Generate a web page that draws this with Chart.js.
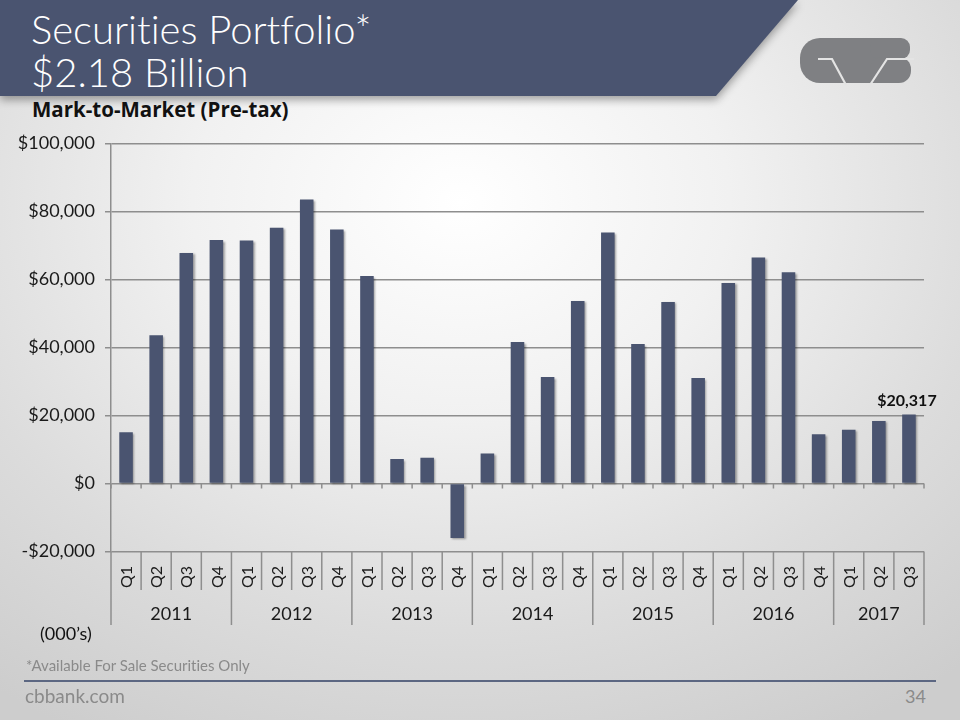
<!DOCTYPE html>
<html><head><meta charset="utf-8">
<script src="https://cdn.jsdelivr.net/npm/chart.js@4.4.1/dist/chart.umd.min.js"></script>
<style>
html,body{margin:0;padding:0;}
body{width:960px;height:720px;overflow:hidden;position:relative;font-family:Lato,"Open Sans",sans-serif;font-variant-ligatures:none;
  background: radial-gradient(ellipse 80% 85% at 48% 28%, #ffffff 0%, #f1f1f1 35%, #dcdcdc 70%, #cdcdcd 100%);}
#banner{position:absolute;left:0;top:0;filter:drop-shadow(0 4px 4px rgba(0,0,0,0.35));}
#title{position:absolute;left:31px;top:8px;color:#fff;font-size:40px;line-height:43px;font-weight:300;white-space:nowrap;}
#subtitle{position:absolute;left:32px;top:99px;font-family:"Open Sans",Lato,sans-serif;font-size:20.5px;line-height:21px;font-weight:700;color:#111;white-space:nowrap;}
#logo{position:absolute;left:790px;top:28px;}
#chartBox{position:absolute;left:0;top:100px;width:960px;height:540px;}
#units{position:absolute;left:40px;top:624px;font-size:18px;line-height:18px;color:#111;}
#note{position:absolute;left:26px;top:658px;font-size:15px;line-height:15px;color:#8a8a8a;}
#rule{position:absolute;left:24px;top:680px;width:912px;height:2px;background:#5c6782;}
#site{position:absolute;left:25px;top:686px;font-size:19px;line-height:19px;color:#8a8a8a;}
#page{position:absolute;right:34px;top:687px;font-size:18px;line-height:18px;color:#8a8a8a;}
</style></head>
<body>
<svg id="banner" width="960" height="110"><polygon points="0,0 798,0 716,96 0,96" fill="#4a5470"/></svg>
<div id="title">Securities Portfolio*<br>$2.18 Billion</div>
<div id="subtitle">Mark-to-Market (Pre-tax)</div>
<svg id="logo" width="130" height="60" viewBox="790 28 130 60">
  <g fill="#7f8083">
    <rect x="800" y="38" width="92" height="45" rx="20" ry="20"/>
    <rect x="830" y="38" width="60" height="45"/>
    <rect x="870" y="38" width="40" height="21" rx="9" ry="9"/>
    <rect x="870" y="57" width="41" height="26" rx="12" ry="12"/>
  </g>
  <polyline points="818,59 832,59 846,85" fill="none" stroke="#e4e4e4" stroke-width="2.2"/>
  <polyline points="870,85 887,59 914,59" fill="none" stroke="#e4e4e4" stroke-width="2.2"/>
</svg>
<div id="chartBox"><canvas id="c"></canvas></div>
<div id="units">(000’s)</div>
<div id="note">*Available For Sale Securities Only</div>
<div id="rule"></div>
<div id="site">cbbank.com</div>
<div id="page">34</div>
<script>
const years = ['2011','2012','2013','2014','2015','2016','2017'];
const quartersPerYear = [4,4,4,4,4,4,3];
const quarterNames = ['Q1','Q2','Q3','Q4'];
const values = [15100, 43600, 67800, 71600,
                71500, 75200, 83500, 74700,
                61000, 7200, 7600, -16000,
                8800, 41600, 31300, 53700,
                73800, 41000, 53400, 31000,
                59000, 66500, 62100, 14500,
                15800, 18400, 20317];
const yTicks = [-20000, 0, 20000, 40000, 60000, 80000, 100000];
const highlightLabel = '$20,317';

const quarterLabels = [], yearOf = [];
years.forEach((y, yi) => { for (let q = 0; q < quartersPerYear[yi]; q++) { quarterLabels.push(quarterNames[q]); yearOf.push(yi); } });
const categories = quarterLabels.map((q, i) => years[yearOf[i]] + ' ' + q);

const FONT = 'Lato, "Open Sans", sans-serif';
const GRID = '#8e8e8e';

function fmt(v){ const s = '$' + Math.abs(v).toLocaleString('en-US'); return v < 0 ? '-' + s : s; }

const axisPlugin = {
  id: 'axisPlugin',
  beforeDatasetsDraw(chart){
    const ctx = chart.ctx; ctx.save();
    ctx.shadowColor = 'rgba(0,0,0,0.35)'; ctx.shadowOffsetX = 1.5; ctx.shadowOffsetY = 1.5; ctx.shadowBlur = 2;
  },
  afterDatasetsDraw(chart){ chart.ctx.restore(); },
  afterDraw(chart){
    const ctx = chart.ctx, xs = chart.scales.x, ys = chart.scales.y, area = chart.chartArea;
    const n = categories.length;
    const bound = i => i === 0 ? area.left : (i === n ? area.right : (xs.getPixelForValue(i-1) + xs.getPixelForValue(i)) / 2);
    const y0 = ys.getPixelForValue(0);
    const boxTop = area.bottom;
    const qBottom = boxTop + 38.5, yBottom = boxTop + 73.5;
    ctx.save();
    ctx.strokeStyle = GRID; ctx.lineWidth = 1.5;
    ctx.beginPath();
    for (let i = 0; i <= n; i++) {
      const x = bound(i);
      ctx.moveTo(x, y0); ctx.lineTo(x, y0 + 5);
      const isYear = (i === 0 || i === n || (yearOf[i] !== yearOf[i-1]));
      ctx.moveTo(x, boxTop); ctx.lineTo(x, isYear ? yBottom : qBottom);
    }
    ctx.stroke();
    ctx.fillStyle = '#1a1a1a';
    ctx.font = '16px ' + FONT;
    ctx.textAlign = 'left'; ctx.textBaseline = 'middle';
    for (let i = 0; i < n; i++) {
      ctx.save();
      ctx.translate(xs.getPixelForValue(i) + 1, qBottom - 2);
      ctx.rotate(-Math.PI/2);
      ctx.fillText(quarterLabels[i], 0, 0);
      ctx.restore();
    }
    ctx.font = '18px ' + FONT; ctx.textAlign = 'center';
    let start = 0;
    years.forEach((y, yi) => {
      const end = start + quartersPerYear[yi];
      ctx.fillText(y, (bound(start) + bound(end)) / 2, boxTop + 63);
      start = end;
    });
    const last = n - 1;
    ctx.font = 'bold 16px ' + FONT; ctx.textBaseline = 'alphabetic';
    ctx.fillStyle = '#111';
    ctx.fillText(highlightLabel, xs.getPixelForValue(last) - 2, ys.getPixelForValue(values[last]) - 8);
    ctx.restore();
  }
};

new Chart(document.getElementById('c'), {
  type: 'bar',
  data: { labels: categories, datasets: [{ data: values, backgroundColor: '#4a5470', barPercentage: 0.45, categoryPercentage: 1 }] },
  options: {
    responsive: true, maintainAspectRatio: false, animation: false,
    layout: { padding: { left: 0, top: 43.5, right: 36, bottom: 88.5 } },
    plugins: { legend: { display: false }, tooltip: { enabled: false } },
    scales: {
      x: { ticks: { display: false }, grid: { display: false }, border: { display: false }, afterFit(s){ s.height = 0; } },
      y: {
        min: -20000, max: 100000,
        afterBuildTicks(s){ s.ticks = yTicks.map(v => ({ value: v })); },
        ticks: { callback: v => fmt(v), color: '#1a1a1a', font: { family: FONT, size: 18 }, padding: 10 },
        grid: { color: GRID, lineWidth: 1.5, tickLength: 6 },
        border: { display: true, color: GRID, width: 1.5 },
        afterFit(s){ s.width = 111; }
      }
    }
  },
  plugins: [axisPlugin]
});
</script>
</body></html>
